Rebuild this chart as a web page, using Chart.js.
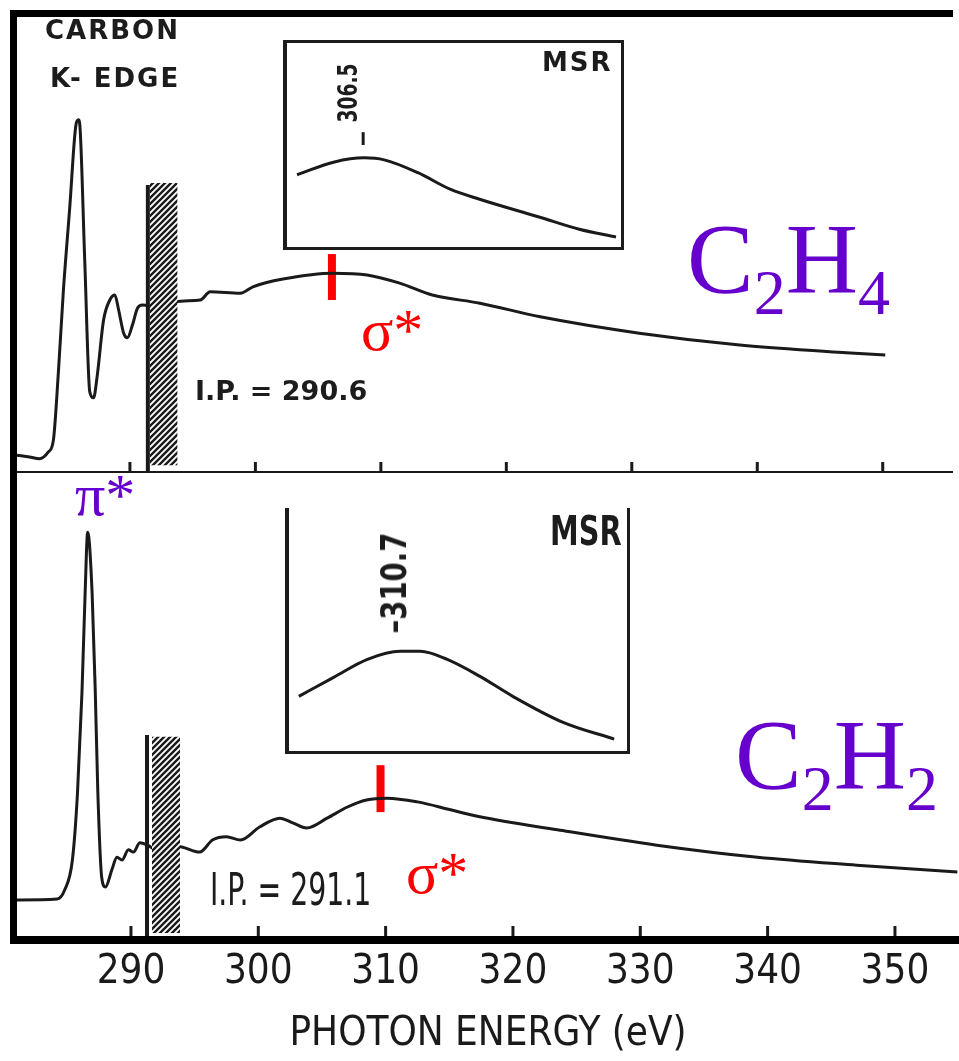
<!DOCTYPE html>
<html>
<head>
<meta charset="utf-8">
<script src="https://cdn.jsdelivr.net/npm/chart.js@4.4.1/dist/chart.umd.min.js"></script>
<style>
  body { margin: 0; background: #fff; }
  #page { position: relative; width: 959px; height: 1061px; overflow: hidden; background: #fff; }
  .box { position: absolute; }
  .txt { position: absolute; white-space: nowrap; line-height: 1; color: #1c1c1c; transform-origin: left top; }
  .bold { font-family: 'DejaVu Sans', sans-serif; font-weight: bold; }
  .narrow { font-family: 'Liberation Sans Narrow', 'DejaVu Sans Condensed', sans-serif; }
  .serif { font-family: 'Liberation Serif', 'Times New Roman', serif; }
  .purple { color: #6600cc; }
  .red { color: #ff0000; }
  .sub { position: relative; font-size: 64px; top: 22px; }
  .rot { position: absolute; text-align: center; white-space: nowrap; color: #1c1c1c; }
  .bar { position: absolute; background: #000; }
</style>
</head>
<body>
<div id="page">
  <div class="box" style="left:0;top:0;width:959px;height:480px;"><canvas id="topChart"></canvas></div>
  <div class="box" style="left:0;top:475px;width:959px;height:586px;"><canvas id="botChart"></canvas></div>

  <div class="box" style="left:283px;top:40px;width:341px;height:210px;border:3px solid #1c1c1c;border-left-width:4px;box-sizing:border-box;background:#fff;">
    <canvas id="insetTop"></canvas>
  </div>
  <div class="box" style="left:285px;top:508px;width:345px;height:246px;border:3px solid #1c1c1c;border-top:none;border-left-width:4px;box-sizing:border-box;background:#fff;">
    <canvas id="insetBot"></canvas>
  </div>

  <!-- frame -->
  <div class="bar" style="left:10px;top:10px;width:943px;height:7px;"></div>
  <div class="bar" style="left:10px;top:10px;width:7px;height:934px;"></div>
  <div class="bar" style="left:10px;top:936px;width:949px;height:8px;"></div>

  <!-- labels -->
  <div class="txt bold" style="left:45px;top:17px;font-size:26px;letter-spacing:2px;">CARBON</div>
  <div class="txt bold" style="left:50px;top:65px;font-size:26px;letter-spacing:2px;">K- EDGE</div>
  <div class="txt bold" style="left:195px;top:377px;font-size:27px;">I.P. = 290.6</div>
  <div class="txt bold" style="left:542px;top:49px;font-size:26px;letter-spacing:2px;">MSR</div>
  <div class="rot narrow" style="left:308px;top:78px;width:80px;height:30px;line-height:30px;font-size:26px;font-weight:bold;transform:rotate(-90deg) scaleX(0.8);">306.5</div>

  <div class="txt narrow" style="left:550px;top:511px;font-size:40px;font-weight:bold;transform:scaleX(0.8);">MSR</div>
  <div class="rot narrow" style="left:344px;top:573px;width:100px;height:36px;line-height:36px;font-size:36px;font-weight:bold;transform:rotate(-90deg) scaleX(0.85);">–310.7</div>
  <div class="txt narrow" style="left:210px;top:867px;font-size:45px;transform:scaleX(0.7);">I.P. = 291.1</div>

  <div class="txt serif purple" style="left:687px;top:209px;font-size:100px;">C<span class="sub">2</span>H<span class="sub">4</span></div>
  <div class="txt serif purple" style="left:735px;top:705px;font-size:100px;">C<span class="sub">2</span>H<span class="sub">2</span></div>
  <div class="txt serif purple" style="left:75px;top:465px;font-size:60px;">π*</div>
  <div class="txt serif red" style="left:361px;top:300px;font-size:60px;">σ*</div>
  <div class="txt serif red" style="left:406px;top:843px;font-size:60px;">σ*</div>
</div>

<script>
// shared photon energy ticks (eV)
const xTicks = [290, 300, 310, 320, 330, 340, 350];

// C2H4 spectrum, relative intensity
const c2h4Energy = [281.0, 282.0, 282.8, 283.5, 283.9, 284.3, 284.7, 285.2, 285.7, 285.9, 286.0, 286.4, 286.8, 287.1, 287.4, 287.9, 288.4, 288.8, 289.1, 289.5, 289.8, 290.2, 290.6, 291.0, 291.8, 292.4, 293.0, 293.6, 295.6, 296.4, 298.8, 299.8, 302.2, 306.2, 308.9, 311.5, 314.1, 317.9, 322.7, 330.6, 338.6, 347.1, 350.2];
const c2h4Signal = [3.7, 3.3, 2.9, 4.4, 7.0, 22.0, 40.0, 58.0, 76.3, 77.4, 76.5, 46.4, 17.6, 16.3, 21.3, 33.4, 37.8, 38.9, 35.6, 30.5, 29.5, 32.3, 36.0, 36.7, 36.0, 33.8, 35.6, 37.4, 37.8, 39.6, 39.3, 40.7, 42.4, 43.7, 43.3, 41.5, 38.9, 37.1, 34.1, 30.5, 27.9, 26.2, 25.7];

// C2H2 spectrum, relative intensity
const c2h2Energy = [281.05, 284.2, 284.8, 285.4, 285.8, 286.15, 286.4, 286.6, 286.95, 287.2, 287.4, 287.7, 288.0, 288.5, 288.9, 289.3, 289.8, 290.2, 290.7, 291.3, 292.0, 292.8, 294.0, 295.4, 296.4, 297.5, 298.6, 300.1, 301.7, 302.7, 303.8, 305.4, 307.0, 308.5, 310.1, 312.5, 315.1, 317.4, 323.5, 331.3, 339.2, 347.0, 354.9];
const c2h2Signal = [8.6, 8.8, 10.8, 17.2, 31.6, 53.1, 74.6, 87.7, 74.6, 53.1, 31.6, 13.5, 11.4, 15.1, 17.8, 17.2, 19.4, 18.9, 20.9, 20.4, 19.4, 20.4, 20.0, 18.9, 21.5, 22.2, 21.5, 24.3, 26.2, 25.2, 24.1, 26.2, 28.6, 30.1, 30.5, 29.7, 28.0, 26.5, 23.7, 20.4, 17.8, 16.1, 14.6];

// MSR insets (relative units)
const insetTopX = [3.0, 14.2, 23.1, 29.1, 39.2, 49.0, 57.9, 75.7, 87.5, 98.5];
const insetTopY = [35.4, 41.7, 43.7, 42.7, 36.4, 28.2, 23.3, 14.6, 8.7, 4.9];
const insetBotX = [2.9, 13.2, 23.2, 32.9, 38.8, 46.8, 56.5, 66.2, 80.9, 96.2];
const insetBotY = [22.5, 30.3, 37.7, 41.0, 41.0, 37.7, 30.7, 22.5, 11.9, 4.9];
const insetTopPeak = [22.8, 50.0, 56.3];   // x, y from, y to

// ionisation edge and sigma* markers: [energy, low, high]
const ipTop = [291.43, 0, 63.1];
const hatchTop = [291.6, 293.8, 1.5, 63.5];
const sigmaTop = [306.1, 37.8, 47.9];
const ipBot = [291.26, 0, 44.1];
const hatchBot = [291.65, 293.85, 1.5, 43.7];
const sigmaBot = [309.6, 27.5, 37.6];

const INK = '#1a1a1a';

function zip(xs, ys) { return xs.map((x, i) => ({ x: x, y: ys[i] })); }

function makeHatch() {
  const c = document.createElement('canvas');
  c.width = 6; c.height = 6;
  const g = c.getContext('2d');
  g.fillStyle = '#fff';
  g.fillRect(0, 0, 6, 6);
  g.strokeStyle = INK;
  g.lineWidth = 2.4;
  g.beginPath();
  g.moveTo(0, 6); g.lineTo(6, 0);
  g.moveTo(-3, 3); g.lineTo(3, -3);
  g.moveTo(3, 9); g.lineTo(9, 3);
  g.stroke();
  return g.createPattern(c, 'repeat');
}
const hatch = makeHatch();

// axis line + tick marks pointing into the panel
const innerTicks = {
  id: 'innerTicks',
  afterDatasetsDraw(chart, args, opts) {
    const { ctx, chartArea } = chart;
    const x = chart.scales.x;
    ctx.save();
    ctx.strokeStyle = INK;
    if (opts.axisLine) {
      ctx.lineWidth = 2;
      ctx.beginPath();
      ctx.moveTo(chartArea.left, chartArea.bottom);
      ctx.lineTo(chartArea.right, chartArea.bottom);
      ctx.stroke();
    }
    ctx.lineWidth = 3;
    (opts.ticks || []).forEach(v => {
      const px = x.getPixelForValue(v);
      ctx.beginPath();
      ctx.moveTo(px, chartArea.bottom - opts.offset);
      ctx.lineTo(px, chartArea.bottom - opts.offset - opts.len);
      ctx.stroke();
    });
    ctx.restore();
  }
};

function curve(data, width) {
  return { data: data, borderColor: INK, borderWidth: width || 3, pointRadius: 0, cubicInterpolationMode: 'monotone', fill: false };
}
function segment(e, lo, hi, color, width) {
  return { data: [{ x: e, y: lo }, { x: e, y: hi }], borderColor: color, borderWidth: width, pointRadius: 0, fill: false, borderCapStyle: 'butt' };
}
function hatchBand(h) {
  return { data: [{ x: h[0], y: h[3] }, { x: h[1], y: h[3] }], borderWidth: 0, pointRadius: 0, backgroundColor: hatch, fill: { value: h[2] } };
}

const baseOpts = {
  responsive: true,
  maintainAspectRatio: false,
  animation: false,
  events: [],
  plugins: { legend: { display: false }, tooltip: { enabled: false } }
};

// top panel: C2H4
new Chart(document.getElementById('topChart'), {
  type: 'line',
  data: {
    datasets: [
      hatchBand(hatchTop),
      segment(ipTop[0], ipTop[1], ipTop[2], INK, 4),
      curve(zip(c2h4Energy, c2h4Signal)),
      segment(sigmaTop[0], sigmaTop[1], sigmaTop[2], '#ff0000', 8)
    ]
  },
  options: Object.assign({}, baseOpts, {
    layout: { padding: { left: 17, top: 17, right: 6, bottom: 8 } },
    scales: {
      x: { type: 'linear', min: 281.0, max: 355.6, display: false },
      y: { min: 0, max: 100, display: false }
    },
    plugins: Object.assign({}, baseOpts.plugins, {
      innerTicks: { axisLine: true, ticks: xTicks, offset: 0, len: 10 }
    })
  }),
  plugins: [innerTicks]
});

// bottom panel: C2H2
new Chart(document.getElementById('botChart'), {
  type: 'line',
  data: {
    datasets: [
      hatchBand(hatchBot),
      segment(ipBot[0], ipBot[1], ipBot[2], INK, 4),
      curve(zip(c2h2Energy, c2h2Signal)),
      segment(sigmaBot[0], sigmaBot[1], sigmaBot[2], '#ff0000', 8)
    ]
  },
  options: Object.assign({}, baseOpts, {
    layout: { padding: { left: 17, top: 0, right: 0, bottom: 0 } },
    scales: {
      x: {
        type: 'linear', min: 281.05, max: 355.03,
        border: { display: false },
        grid: { display: false, drawTicks: false },
        afterBuildTicks: axis => { axis.ticks = xTicks.map(v => ({ value: v })); },
        afterFit: axis => { axis.height = 121; },
        ticks: {
          padding: 9, color: INK, maxRotation: 0, autoSkip: false,
          font: { family: "'Liberation Sans Narrow', 'DejaVu Sans Condensed', sans-serif", size: 40 }
        },
        title: {
          display: true, text: 'PHOTON ENERGY (eV)', color: INK, padding: { top: 0, bottom: 2 },
          font: { family: "'Liberation Sans Narrow', 'DejaVu Sans Condensed', sans-serif", size: 40 }
        }
      },
      y: { min: 0, max: 100, display: false }
    },
    plugins: Object.assign({}, baseOpts.plugins, {
      innerTicks: { axisLine: false, ticks: xTicks, offset: 4, len: 10 }
    })
  }),
  plugins: [innerTicks]
});

function insetOpts() {
  return Object.assign({}, baseOpts, {
    layout: { padding: 0 },
    scales: {
      x: { type: 'linear', min: 0, max: 100, display: false },
      y: { min: 0, max: 100, display: false }
    }
  });
}

new Chart(document.getElementById('insetTop'), {
  type: 'line',
  data: {
    datasets: [
      curve(zip(insetTopX, insetTopY)),
      segment(insetTopPeak[0], insetTopPeak[1], insetTopPeak[2], INK, 3)
    ]
  },
  options: insetOpts()
});

new Chart(document.getElementById('insetBot'), {
  type: 'line',
  data: { datasets: [curve(zip(insetBotX, insetBotY))] },
  options: insetOpts()
});
</script>
</body>
</html>
